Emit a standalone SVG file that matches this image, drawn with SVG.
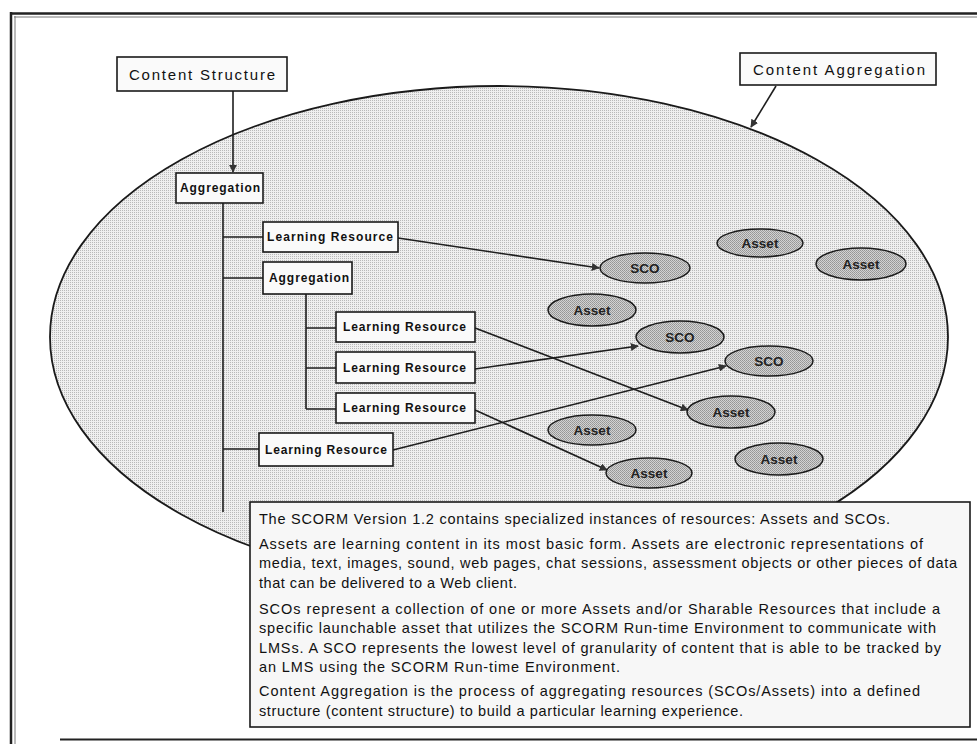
<svg xmlns="http://www.w3.org/2000/svg" width="977" height="744" viewBox="0 0 977 744">
  <defs>
    <!-- dithered fills -->
    <pattern id="ditherLight" width="2" height="2" patternUnits="userSpaceOnUse">
      <rect width="2" height="2" fill="#efefef"/>
      <rect x="0" y="0" width="1" height="1" fill="#b9b9b9"/>
    </pattern>
    <pattern id="ditherDark" width="2" height="2" patternUnits="userSpaceOnUse">
      <rect width="2" height="2" fill="#d2d2d2"/>
      <rect x="0" y="0" width="1" height="1" fill="#959595"/>
      <rect x="1" y="1" width="1" height="1" fill="#a0a0a0"/>
    </pattern>
    <marker id="arrow" viewBox="0 0 10 10" refX="9" refY="5" markerWidth="8" markerHeight="8" markerUnits="userSpaceOnUse" orient="auto">
      <path d="M0,0 L10,5 L0,10 Z" fill="#333"/>
    </marker>
    <style>
      .box { fill: #fafafa; stroke: #1a1a1a; stroke-width: 1.6; }
      .lbl { font-family: "Liberation Sans", Arial, sans-serif; fill: #111; }
      .big { font-size: 15px; }
      .small { font-size: 12px; font-weight: bold; }
      .oval { fill: url(#ditherDark); stroke: #1a1a1a; stroke-width: 1.5; }
      .olbl { font-family: "Liberation Sans", Arial, sans-serif; font-size: 13.5px; font-weight: bold; fill: #222; text-anchor: middle; }
      .line { stroke: #1e1e1e; stroke-width: 1.6; fill: none; }
      .para { font-family: "Liberation Sans", Arial, sans-serif; font-size: 14.5px; fill: #111; }
    </style>
  </defs>

  <rect width="977" height="744" fill="#ffffff"/>

  <!-- page frame -->
  <g id="frame" fill="none" stroke="#222">
    <line x1="10" y1="13.5" x2="977" y2="13.5" stroke-width="2.5"/>
    <line x1="14" y1="17" x2="977" y2="17" stroke-width="1" stroke="#777"/>
    <line x1="11" y1="12" x2="11" y2="744" stroke-width="2.5"/>
    <line x1="15" y1="16" x2="15" y2="744" stroke-width="1" stroke="#777"/>
    <line x1="60" y1="739.5" x2="977" y2="739.5" stroke-width="2"/>
  </g>

  <!-- content aggregation region -->
  <g id="aggregation-region">
    <ellipse cx="499" cy="337" rx="449" ry="251" fill="url(#ditherLight)" stroke="#1a1a1a" stroke-width="1.8"/>
  </g>

  <!-- connectors -->
  <g id="connectors">
    <!-- tree lines -->
    <path class="line" d="M223,203 V512 M223,237 H263 M223,278 H263 M223,449 H259"/>
    <path class="line" d="M306,294 V409 M306,328 H336 M306,368 H336 M306,409 H336"/>
    <!-- callouts -->
    <line class="line" x1="233" y1="91" x2="233" y2="172" marker-end="url(#arrow)"/>
    <line class="line" x1="776" y1="86" x2="751" y2="127" marker-end="url(#arrow)"/>
    <!-- resource to SCO / Asset links -->
    <line class="line" x1="398" y1="238" x2="599" y2="268" marker-end="url(#arrow)"/>
    <line class="line" x1="475" y1="328" x2="688" y2="410" marker-end="url(#arrow)"/>
    <line class="line" x1="475" y1="369" x2="638" y2="346" marker-end="url(#arrow)"/>
    <line class="line" x1="475" y1="410" x2="607" y2="470" marker-end="url(#arrow)"/>
    <line class="line" x1="393" y1="450" x2="726" y2="366" marker-end="url(#arrow)"/>
  </g>

  <!-- labels -->
  <g id="content-structure">
    <rect class="box" x="117" y="57" width="170" height="34"/>
    <text class="lbl big" x="129" y="80" textLength="146" lengthAdjust="spacing">Content Structure</text>
  </g>
  <g id="content-aggregation">
    <rect class="box" x="740" y="53" width="196" height="32"/>
    <text class="lbl big" x="753" y="75" textLength="172" lengthAdjust="spacing">Content Aggregation</text>
  </g>

  <!-- structure tree -->
  <g id="aggregation-1">
    <rect class="box" x="176" y="173" width="87" height="30"/>
    <text class="lbl small" x="180" y="192" textLength="80" lengthAdjust="spacing">Aggregation</text>
  </g>
  <g id="learning-resource-1">
    <rect class="box" x="263" y="222" width="135" height="30"/>
    <text class="lbl small" x="267" y="241" textLength="126" lengthAdjust="spacing">Learning Resource</text>
  </g>
  <g id="aggregation-2">
    <rect class="box" x="263" y="262" width="89" height="32"/>
    <text class="lbl small" x="269" y="282" textLength="80" lengthAdjust="spacing">Aggregation</text>
  </g>
  <g id="learning-resource-2">
    <rect class="box" x="336" y="312" width="139" height="30"/>
    <text class="lbl small" x="343" y="331" textLength="123" lengthAdjust="spacing">Learning Resource</text>
  </g>
  <g id="learning-resource-3">
    <rect class="box" x="336" y="352" width="139" height="31"/>
    <text class="lbl small" x="343" y="372" textLength="123" lengthAdjust="spacing">Learning Resource</text>
  </g>
  <g id="learning-resource-4">
    <rect class="box" x="336" y="393" width="139" height="30"/>
    <text class="lbl small" x="343" y="412" textLength="123" lengthAdjust="spacing">Learning Resource</text>
  </g>
  <g id="learning-resource-5">
    <rect class="box" x="259" y="433" width="134" height="33"/>
    <text class="lbl small" x="265" y="454" textLength="122" lengthAdjust="spacing">Learning Resource</text>
  </g>

  <!-- SCOs and Assets -->
  <g id="asset-1"><ellipse class="oval" cx="760" cy="243" rx="43" ry="14"/><text class="olbl" x="760" y="248">Asset</text></g>
  <g id="asset-2"><ellipse class="oval" cx="861" cy="264" rx="45" ry="16"/><text class="olbl" x="861" y="269">Asset</text></g>
  <g id="sco-1"><ellipse class="oval" cx="645" cy="268" rx="45" ry="15"/><text class="olbl" x="645" y="273">SCO</text></g>
  <g id="asset-3"><ellipse class="oval" cx="592" cy="310" rx="44" ry="16"/><text class="olbl" x="592" y="315">Asset</text></g>
  <g id="sco-2"><ellipse class="oval" cx="680" cy="337" rx="44" ry="16"/><text class="olbl" x="680" y="342">SCO</text></g>
  <g id="sco-3"><ellipse class="oval" cx="769" cy="361" rx="44" ry="15"/><text class="olbl" x="769" y="366">SCO</text></g>
  <g id="asset-4"><ellipse class="oval" cx="731" cy="412" rx="44" ry="16"/><text class="olbl" x="731" y="417">Asset</text></g>
  <g id="asset-5"><ellipse class="oval" cx="592" cy="430" rx="44" ry="15"/><text class="olbl" x="592" y="435">Asset</text></g>
  <g id="asset-6"><ellipse class="oval" cx="779" cy="459" rx="44" ry="16"/><text class="olbl" x="779" y="464">Asset</text></g>
  <g id="asset-7"><ellipse class="oval" cx="649" cy="473" rx="43" ry="15"/><text class="olbl" x="649" y="478">Asset</text></g>

  <!-- explanation box -->
  <g id="notes">
    <rect x="250" y="502" width="720" height="225" fill="#f7f7f7" stroke="#1a1a1a" stroke-width="1.6"/>
    <text class="para" x="259" y="524" textLength="631" lengthAdjust="spacing">The SCORM Version 1.2 contains specialized instances of resources: Assets and SCOs.</text>
    <text class="para" x="259" y="549" textLength="664" lengthAdjust="spacing">Assets are learning content in its most basic form.  Assets are electronic representations of</text>
    <text class="para" x="259" y="568" textLength="698" lengthAdjust="spacing">media, text, images, sound, web pages, chat sessions, assessment objects or other pieces of data</text>
    <text class="para" x="259" y="588" textLength="258" lengthAdjust="spacing">that can be delivered to a Web client.</text>
    <text class="para" x="259" y="614" textLength="681" lengthAdjust="spacing">SCOs represent a collection of one or more Assets and/or Sharable Resources that include a</text>
    <text class="para" x="259" y="633" textLength="677" lengthAdjust="spacing">specific launchable asset that utilizes the SCORM Run-time Environment to communicate with</text>
    <text class="para" x="259" y="653" textLength="682" lengthAdjust="spacing">LMSs.  A SCO represents the lowest level of granularity of content that is able to be tracked by</text>
    <text class="para" x="259" y="672" textLength="361" lengthAdjust="spacing">an LMS using the SCORM Run-time Environment.</text>
    <text class="para" x="259" y="696" textLength="661" lengthAdjust="spacing">Content Aggregation is the process of aggregating resources (SCOs/Assets) into a defined</text>
    <text class="para" x="259" y="716" textLength="484" lengthAdjust="spacing">structure (content structure) to build a particular learning experience.</text>
  </g>
</svg>
